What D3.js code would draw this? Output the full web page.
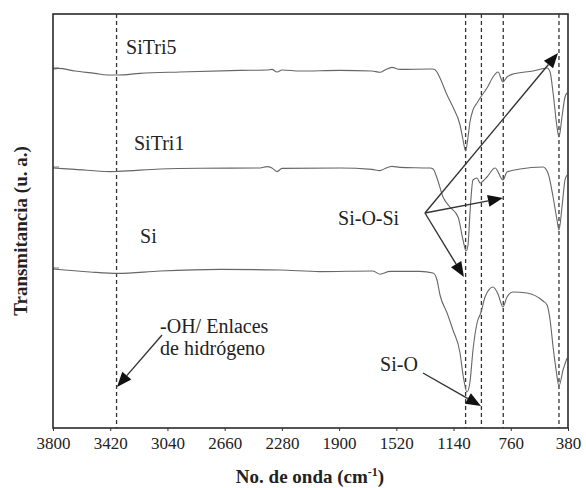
<!DOCTYPE html>
<html>
<head>
<meta charset="utf-8">
<script src="https://cdn.jsdelivr.net/npm/d3@7"></script>
<style>
  body { margin: 0; background: #fff; }
  text { font-family: "Liberation Serif", "Times New Roman", Times, "DejaVu Serif", serif; fill: #222; }
</style>
</head>
<body>
<svg id="chart" width="586" height="488"></svg>
<script>
// wavenumber ticks (cm-1), axis is reversed
const wnTicks = [3800, 3420, 3040, 2660, 2280, 1900, 1520, 1140, 760, 380];
// band positions marked by dashed lines
const bandLines = [3378, 1060, 955, 810, 440];

// spectra: [wavenumber, transmittance (a.u., offset)]
const siTri5 = [
  [3800, 179.5], [3767, 179.8], [3654, 178.5], [3521, 177.3], [3441, 176.5], [3368, 176.5],
  [3222, 177.3], [2957, 178], [2558, 178.8], [2379, 179], [2346, 179.3], [2312, 178],
  [2279, 179], [2160, 178.5], [1894, 178.8], [1682, 178.5], [1628, 177.9], [1595, 179],
  [1549, 180.3], [1496, 179.3], [1296, 179.5], [1276, 179.5], [1250, 178], [1230, 175],
  [1183, 166.5], [1144, 160.5], [1097, 151.5], [1077, 144], [1060, 138.5], [1044, 145.5],
  [1031, 153], [1011, 159], [984, 162.5], [964, 165], [918, 170], [878, 175.5], [845, 178],
  [812, 173], [785, 175.5], [745, 177], [612, 178.5], [519, 180], [499, 178], [479, 167.5],
  [453, 150.5], [440, 145.5], [420, 155.5], [400, 165.5], [386, 167.5]
];
const siTri1 = [
  [3800, 130], [3654, 129.3], [3421, 128.2], [3368, 128.3], [3089, 129.5], [2824, 129.9],
  [2425, 130], [2379, 130.7], [2346, 130], [2312, 128.2], [2279, 129.8], [1894, 130],
  [1682, 129.3], [1628, 128.7], [1595, 129.8], [1549, 130.8], [1496, 130.3], [1296, 130],
  [1276, 129.5], [1250, 125], [1210, 115.5], [1164, 110.5], [1110, 105.5], [1077, 94],
  [1057, 88.5], [1044, 91.5], [1031, 107.5], [1011, 124], [984, 125], [964, 122.5],
  [944, 123.5], [918, 125.5], [864, 130], [812, 124], [785, 128], [699, 129.5], [546, 130.5],
  [513, 127.5], [479, 115.5], [453, 104], [440, 99], [420, 110.5], [400, 124], [386, 126.5]
];
const si = [
  [3800, 79.5], [3554, 78], [3368, 77.3], [3089, 78.5], [2691, 79.3], [2293, 79], [2027, 78.2],
  [1675, 78.5], [1628, 76.9], [1562, 78.3], [1363, 78.3], [1276, 77.5], [1250, 74], [1230, 66.5],
  [1183, 57.5], [1144, 49], [1097, 37.5], [1077, 26.5], [1051, 18], [1031, 23], [1011, 39],
  [984, 52.5], [957, 58], [931, 65.5], [878, 70.5], [845, 67], [812, 60.5], [785, 65.5],
  [745, 68], [652, 67.5], [546, 63.5], [519, 61.5], [499, 54], [479, 40.5], [459, 29],
  [440, 21], [413, 29], [386, 35]
];
const seriesList = [siTri5, siTri1, si];

// labels and arrows, in data units
const labels = [
  {text: "SiTri5", wn: 3315, v: 187},
  {text: "SiTri1", wn: 3262, v: 139},
  {text: "Si", wn: 3222, v: 92.5},
  {text: "Si-O-Si", wn: 1907, v: 101.5},
  {text: "Si-O", wn: 1628, v: 28.5},
  {text: "-OH/ Enlaces", wn: 3089, v: 47.5},
  {text: "de hidrógeno", wn: 3089, v: 36.5}
];
const arrows = [
  {from: [1330, 107.5], to: [446, 187.5]},
  {from: [1330, 107.5], to: [812, 115]},
  {from: [1330, 107.5], to: [1071, 75.5]},
  {from: [1343, 27.5], to: [958, 11]},
  {from: [3076, 46.5], to: [3375, 20.5]}
];

const width = 586, height = 488;
const margin = {left: 53, right: 18, top: 14, bottom: 60};

const svg = d3.select("#chart");

const x = d3.scaleLinear()
  .domain([3800, 380])
  .range([margin.left, width - margin.right]);
const y = d3.scaleLinear()
  .domain([0, 207])
  .range([height - margin.bottom, margin.top]);

// dashed band lines
svg.append("g")
  .selectAll("line")
  .data(bandLines)
  .join("line")
  .attr("x1", d => x(d)).attr("x2", d => x(d))
  .attr("y1", margin.top).attr("y2", height - margin.bottom)
  .attr("stroke", "#333")
  .attr("stroke-width", 1.3)
  .attr("stroke-dasharray", "4,3");

// spectra
const line = d3.line()
  .x(d => x(d[0]))
  .y(d => y(d[1]))
  .curve(d3.curveMonotoneX);

svg.append("g")
  .selectAll("path")
  .data(seriesList)
  .join("path")
  .attr("d", d => line(d.slice().reverse()))
  .attr("fill", "none")
  .attr("stroke", "#666")
  .attr("stroke-width", 1.1);

// axis
const xAxis = d3.axisBottom(x)
  .tickValues(wnTicks)
  .tickSize(3)
  .tickSizeOuter(0)
  .tickPadding(6)
  .tickFormat(d3.format("d"));

const gx = svg.append("g")
  .attr("transform", `translate(0,${height - margin.bottom})`)
  .call(xAxis);
gx.select(".domain").remove();
gx.selectAll(".tick line").attr("stroke", "#333");
gx.selectAll(".tick text")
  .attr("font-size", 17)
  .attr("fill", "#222");

// small inner ticks on the y axis at the baselines
svg.append("g")
  .selectAll("line")
  .data([siTri5[0][1], siTri1[0][1], si[0][1]])
  .join("line")
  .attr("x1", margin.left).attr("x2", margin.left + 6)
  .attr("y1", d => y(d) - 1).attr("y2", d => y(d) - 1)
  .attr("stroke", "#555")
  .attr("stroke-width", 0.8);

// frame
svg.append("rect")
  .attr("x", margin.left)
  .attr("y", margin.top)
  .attr("width", width - margin.right - margin.left)
  .attr("height", height - margin.bottom - margin.top)
  .attr("fill", "none")
  .attr("stroke", "#2a2a2a")
  .attr("stroke-width", 1.6);

// arrows
const headLen = 15, headHalf = 6;
arrows.forEach(a => {
  const x0 = x(a.from[0]), y0 = y(a.from[1]);
  const x1 = x(a.to[0]), y1 = y(a.to[1]);
  const ang = Math.atan2(y1 - y0, x1 - x0);
  const bx = x1 - headLen * Math.cos(ang), by = y1 - headLen * Math.sin(ang);
  svg.append("line")
    .attr("x1", x0).attr("y1", y0)
    .attr("x2", bx).attr("y2", by)
    .attr("stroke", "#333")
    .attr("stroke-width", 1.4);
  const px = -Math.sin(ang) * headHalf, py = Math.cos(ang) * headHalf;
  svg.append("path")
    .attr("d", `M${x1},${y1}L${bx + px},${by + py}L${bx - px},${by - py}Z`)
    .attr("fill", "#111");
});

// labels
svg.append("g")
  .selectAll("text")
  .data(labels)
  .join("text")
  .attr("x", d => x(d.wn))
  .attr("y", d => y(d.v))
  .attr("font-size", 20)
  .text(d => d.text);

// axis titles
const xt = svg.append("text")
  .attr("x", 310)
  .attr("y", 483)
  .attr("text-anchor", "middle")
  .attr("font-size", 19)
  .attr("font-weight", "bold");
xt.append("tspan").text("No. de onda (cm");
xt.append("tspan").attr("dy", -7).attr("font-size", 12).text("-1");
xt.append("tspan").attr("dy", 7).text(")");

svg.append("text")
  .attr("transform", `translate(27,231) rotate(-90)`)
  .attr("text-anchor", "middle")
  .attr("font-size", 19)
  .attr("font-weight", "bold")
  .text("Transmitancia (u. a.)");
</script>
</body>
</html>
